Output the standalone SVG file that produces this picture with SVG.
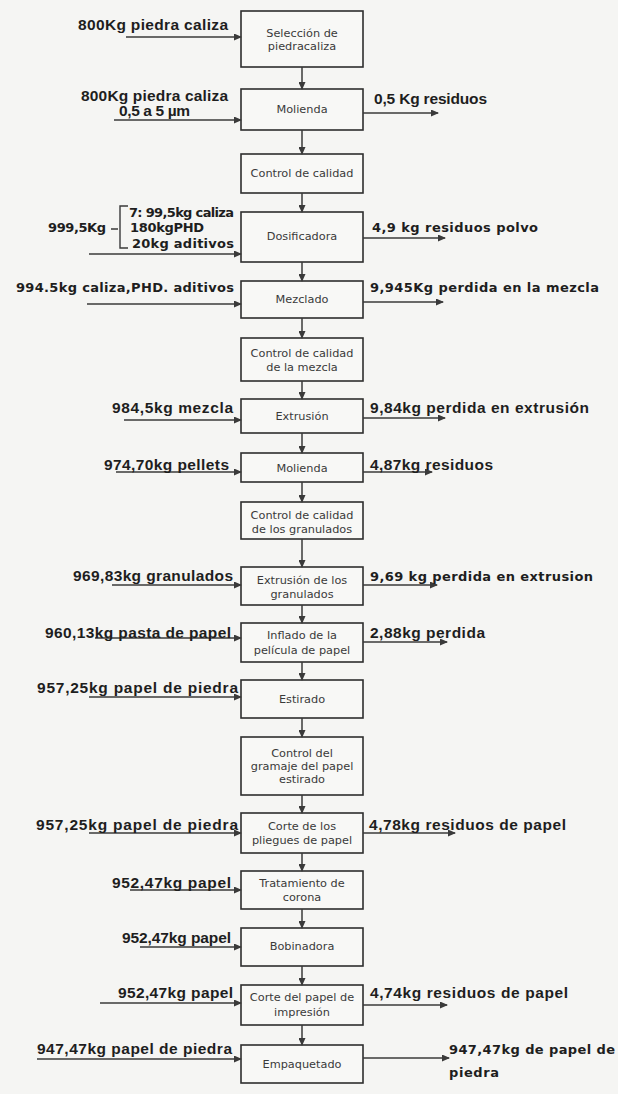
<svg xmlns="http://www.w3.org/2000/svg" width="618" height="1094" viewBox="0 0 618 1094">
<defs>
<marker id="ah" markerWidth="8" markerHeight="7" refX="7" refY="3.5" orient="auto" markerUnits="userSpaceOnUse">
<path d="M0,0 L8,3.5 L0,7 Z" fill="#3a3a3a"/>
</marker>
<style>
.box{fill:#f8f8f6;stroke:#2e2e2e;stroke-width:1.6}
.bt{font-family:"DejaVu Sans",sans-serif;font-size:11.3px;fill:#3a3a3a;text-anchor:middle}
.lb{font-family:"Liberation Sans",Arial,sans-serif;font-size:15.5px;font-weight:bold;fill:#1e1e1e}
.lv{font-family:"DejaVu Sans",sans-serif;font-size:13px;font-weight:bold;fill:#1e1e1e}
.c{stroke:#3a3a3a;stroke-width:1.5;fill:none;marker-end:url(#ah)}
.br{stroke:#3a3a3a;stroke-width:1.4;fill:none}
</style>
</defs>
<rect x="0" y="0" width="618" height="1094" fill="#f5f5f3"/>

<g id="n1"><rect class="box" x="241" y="11" width="122" height="56"/><text class="bt" x="302" y="37">Selección de</text><text class="bt" x="302" y="50">piedracaliza</text></g>
<g id="n2"><rect class="box" x="241" y="89" width="122" height="41"/><text class="bt" x="302" y="113">Molienda</text></g>
<g id="n3"><rect class="box" x="241" y="154" width="122" height="39"/><text class="bt" x="302" y="177">Control de calidad</text></g>
<g id="n4"><rect class="box" x="241" y="212" width="122" height="50"/><text class="bt" x="302" y="240">Dosificadora</text></g>
<g id="n5"><rect class="box" x="241" y="281" width="122" height="37"/><text class="bt" x="302" y="303">Mezclado</text></g>
<g id="n6"><rect class="box" x="241" y="338" width="122" height="43"/><text class="bt" x="302" y="357">Control de calidad</text><text class="bt" x="302" y="371">de la mezcla</text></g>
<g id="n7"><rect class="box" x="241" y="399" width="122" height="34"/><text class="bt" x="302" y="420">Extrusión</text></g>
<g id="n8"><rect class="box" x="241" y="453" width="122" height="29"/><text class="bt" x="302" y="472">Molienda</text></g>
<g id="n9"><rect class="box" x="241" y="502" width="122" height="37"/><text class="bt" x="302" y="519">Control de calidad</text><text class="bt" x="302" y="533">de los granulados</text></g>
<g id="n10"><rect class="box" x="241" y="567" width="122" height="38"/><text class="bt" x="302" y="584">Extrusión de los</text><text class="bt" x="302" y="598">granulados</text></g>
<g id="n11"><rect class="box" x="241" y="623" width="122" height="39"/><text class="bt" x="302" y="639">Inflado de la</text><text class="bt" x="302" y="654">película de papel</text></g>
<g id="n12"><rect class="box" x="241" y="680" width="122" height="38"/><text class="bt" x="302" y="703">Estirado</text></g>
<g id="n13"><rect class="box" x="241" y="737" width="122" height="58"/><text class="bt" x="302" y="757">Control del</text><text class="bt" x="302" y="770">gramaje del papel</text><text class="bt" x="302" y="783">estirado</text></g>
<g id="n14"><rect class="box" x="241" y="813" width="122" height="40"/><text class="bt" x="302" y="830">Corte de los</text><text class="bt" x="302" y="844">pliegues de papel</text></g>
<g id="n15"><rect class="box" x="241" y="871" width="122" height="38"/><text class="bt" x="302" y="887">Tratamiento de</text><text class="bt" x="302" y="901">corona</text></g>
<g id="n16"><rect class="box" x="241" y="928" width="122" height="38"/><text class="bt" x="302" y="950">Bobinadora</text></g>
<g id="n17"><rect class="box" x="241" y="985" width="122" height="40"/><text class="bt" x="302" y="1001">Corte del papel de</text><text class="bt" x="302" y="1016">impresión</text></g>
<g id="n18"><rect class="box" x="241" y="1045" width="122" height="38"/><text class="bt" x="302" y="1068">Empaquetado</text></g>

<g id="connectors">
<path class="c" d="M302,67 V89"/>
<path class="c" d="M302,130 V154"/>
<path class="c" d="M302,193 V212"/>
<path class="c" d="M302,262 V281"/>
<path class="c" d="M302,318 V338"/>
<path class="c" d="M302,381 V399"/>
<path class="c" d="M302,433 V453"/>
<path class="c" d="M302,482 V502"/>
<path class="c" d="M302,539 V567"/>
<path class="c" d="M302,605 V623"/>
<path class="c" d="M302,662 V680"/>
<path class="c" d="M302,718 V737"/>
<path class="c" d="M302,795 V813"/>
<path class="c" d="M302,853 V871"/>
<path class="c" d="M302,909 V928"/>
<path class="c" d="M302,966 V985"/>
<path class="c" d="M302,1025 V1045"/>

<path class="c" d="M126,37 H241"/>
<path class="c" d="M114,120 H241"/>
<path class="c" d="M363,113 H438"/>
<path class="c" d="M89,254 H241"/>
<path class="c" d="M363,238 H445"/>
<path class="c" d="M87,304 H241"/>
<path class="c" d="M363,302 H443"/>
<path class="c" d="M124,420 H241"/>
<path class="c" d="M363,418 H445"/>
<path class="c" d="M116,472 H241"/>
<path class="c" d="M363,472 H432"/>
<path class="c" d="M112,585 H241"/>
<path class="c" d="M363,585 H437"/>
<path class="c" d="M95,638 H241"/>
<path class="c" d="M363,642 H447"/>
<path class="c" d="M89,697 H241"/>
<path class="c" d="M89,833 H241"/>
<path class="c" d="M363,833 H455"/>
<path class="c" d="M130,890 H241"/>
<path class="c" d="M140,947 H241"/>
<path class="c" d="M100,1003 H241"/>
<path class="c" d="M363,1005 H447"/>
<path class="c" d="M37,1059 H241"/>
<path class="c" d="M363,1058 H449"/>
<path class="br" d="M111,229 H118 M128,206 H120 V248 H128"/>
</g>

<g id="labels">
<text class="lb" x="78" y="30" textLength="150">800Kg piedra caliza</text>
<text class="lb" x="81" y="101" textLength="147">800Kg piedra caliza</text>
<text class="lb" x="119" y="116" font-size="14" textLength="71">0,5 a 5 µm</text>
<text class="lb" x="374" y="104" textLength="113">0,5 Kg residuos</text>
<text class="lv" x="48" y="232" textLength="58">999,5Kg</text>
<text class="lv" x="129" y="217" textLength="105">7: 99,5kg caliza</text>
<text class="lv" x="130" y="232" textLength="74">180kgPHD</text>
<text class="lv" x="132" y="248" textLength="102">20kg aditivos</text>
<text class="lv" x="372" y="232" textLength="166">4,9 kg residuos polvo</text>
<text class="lv" x="16" y="292" textLength="218">994.5kg caliza,PHD. aditivos</text>
<text class="lv" x="370" y="292" textLength="229">9,945Kg perdida en la mezcla</text>
<text class="lb" x="112" y="413" textLength="121">984,5kg mezcla</text>
<text class="lb" x="370" y="413" textLength="219">9,84kg perdida en extrusión</text>
<text class="lb" x="104" y="470" textLength="125">974,70kg pellets</text>
<text class="lb" x="370" y="470" textLength="123">4,87kg residuos</text>
<text class="lb" x="73" y="581" textLength="160">969,83kg granulados</text>
<text class="lv" x="370" y="581" textLength="223">9,69 kg perdida en extrusion</text>
<text class="lb" x="45" y="638" textLength="186">960,13kg pasta de papel</text>
<text class="lb" x="370" y="638" textLength="115">2,88kg perdida</text>
<text class="lb" x="37" y="693" textLength="201">957,25kg papel de piedra</text>
<text class="lb" x="36" y="830" textLength="202">957,25kg papel de piedra</text>
<text class="lb" x="369" y="830" textLength="197">4,78kg residuos de papel</text>
<text class="lb" x="112" y="888" textLength="119">952,47kg papel</text>
<text class="lb" x="122" y="943" textLength="109">952,47kg papel</text>
<text class="lb" x="118" y="998" textLength="115">952,47kg papel</text>
<text class="lb" x="370" y="998" textLength="198">4,74kg residuos de papel</text>
<text class="lb" x="37" y="1054" textLength="195">947,47kg papel de piedra</text>
<text class="lv" x="449" y="1054" textLength="166">947,47kg de papel de</text>
<text class="lv" x="449" y="1077" textLength="50">piedra</text>
</g>
</svg>
